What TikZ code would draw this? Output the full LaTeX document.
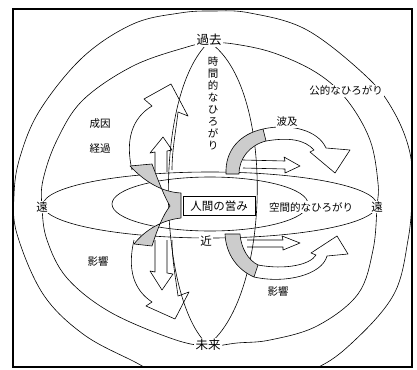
\documentclass[tikz,border=0pt]{standalone}
\usepackage{fontspec}
\newfontfamily\jp{Noto Sans CJK JP}
\begin{document}
\begin{tikzpicture}[x=1pt,y=-1pt,
  lbl/.style={font=\jp\fontsize{10.5}{12}\selectfont, fill=white, inner sep=1pt},
  biglbl/.style={font=\jp\fontsize{12.5}{14}\selectfont, fill=white, inner sep=1.5pt},
  thinline/.style={line width=0.6pt},
  arr/.style={line width=0.6pt, line join=round},
  band/.style={line width=0.6pt, fill=gray!40, line join=round}]
\useasboundingbox (0,0) rectangle (417,369);
% outer circle clipped by frame
\begin{scope}
\clip (13,9) rectangle (412,367);
\draw[thinline] plot[smooth cycle, tension=0.6] coordinates {
 (213,11) (250,13) (307,30) (367,77) (394,112) (410,153) (412,195) (408,240)
 (394,294) (354,341) (314,369) (250,386) (180,383) (133,361) (83,334) (43,294)
 (17,234) (14,195) (20,157) (40,110) (83,57) (133,24) (180,13)};
\end{scope}
% inner circle
\draw[thinline] plot[smooth cycle, tension=0.6] coordinates {
 (209,43) (234,44) (274,53) (317,73) (347,100) (370,140) (378,183) (377,207)
 (373,250) (358,294) (317,326) (270,340) (237,343) (208,346) (173,339) (110,312)
 (67,278) (47,240) (42,207) (43,180) (57,140) (83,100) (133,66) (187,47)};
% meridian (lens)
\draw[thinline] (209,42) .. controls (152,95) and (158,300) .. (208,345);
\draw[thinline] (209,42) .. controls (275,85) and (272,295) .. (208,345);
% equator and small loop
\draw[thinline] (210,205) ellipse [x radius=167, y radius=33];
\draw[thinline] (210,204) ellipse [x radius=98, y radius=27];
% upper-left arrows
\draw[arr] (132,170) .. controls (125,140) and (132,118) .. (152,106) -- (144,99) -- (171,84)
  -- (188,116) -- (178,112) .. controls (176,130) and (172,150) .. (172,170);
\draw[arr] (155,172) -- (155,152) -- (150,153) -- (163,137) -- (172,150) -- (167,151) -- (167,172);
% lower-left arrows
\draw[arr] (134,240) .. controls (127,270) and (134,290) .. (152,302) -- (146,306) -- (175,319)
  -- (189,292) -- (178,296) .. controls (176,280) and (172,260) .. (172,240);
\draw[arr] (155,240) -- (155,272) -- (150,271) -- (162,290) -- (173,274) -- (167,273) -- (167,240);
% left gray chevron
\draw[band] (130,166) .. controls (145,182) and (162,192) .. (181,193) -- (181,218)
  .. controls (162,220) and (145,230) .. (134,244) -- (152,246)
  .. controls (157,230) and (163,215) .. (170,206)
  .. controls (164,196) and (158,180) .. (152,164) -- cycle;
% upper-right arrows
\draw[band] (226,174) .. controls (225,150) and (240,134) .. (263,129) -- (266,141)
  .. controls (250,145) and (239,158) .. (239,174) -- cycle;
\draw[arr] (263,129) .. controls (290,123) and (318,130) .. (326,148) -- (350,150) -- (335,173)
  -- (310,152) -- (314,150) .. controls (305,140) and (290,137) .. (266,141);
\draw[arr] (243,160) -- (285,161) -- (284,157) -- (300,166) -- (285,173) -- (285,169) -- (243,168);
% lower-right arrows
\draw[band] (225,234) .. controls (226,255) and (238,270) .. (254,277) -- (258,265)
  .. controls (248,260) and (241,248) .. (240,234) -- cycle;
\draw[arr] (254,277) .. controls (285,284) and (322,275) .. (327,256) -- (348,254) -- (337,236)
  -- (311,253) -- (316,255) .. controls (310,265) and (285,270) .. (258,265);
\draw[arr] (247,240) -- (283,240) -- (282,236) -- (300,243) -- (283,250) -- (283,247) -- (247,247);
% frame
\draw[line width=1.8pt] (13,9) rectangle (412,367);
% labels
\node[biglbl] (past) at (209,40) {過去};
\node[biglbl] (future) at (208,345) {未来};
\node[lbl, font=\jp\fontsize{11.5}{12}\selectfont] (farL) at (42,207) {遠};
\node[lbl, font=\jp\fontsize{11.5}{12}\selectfont] (farR) at (377,207) {遠};
\node[lbl, font=\jp\fontsize{11.5}{12}\selectfont] (near) at (206,241) {近};
\node[lbl, align=center, font=\jp\fontsize{10.5}{12}\selectfont] (time) at (213,103)
  {時\\間\\的\\な\\ひ\\ろ\\が\\り};
\node[lbl] (public) at (346,91) {公的なひろがり};
\node[lbl] (cause) at (100,124) {成因};
\node[lbl] (course) at (100,149) {経過};
\node[lbl] (spread) at (287,122) {波及};
\node[lbl] (inflL) at (98,262) {影響};
\node[lbl] (inflR) at (278,292) {影響};
\node[draw, thinline, fill=white, font=\jp\fontsize{11.5}{13}\selectfont,
  minimum width=72pt, minimum height=19pt, inner sep=1pt] (human) at (219,206) {人間の営み};
\node[lbl] (space) at (311,207) {空間的なひろがり};
\end{tikzpicture}
\end{document}
